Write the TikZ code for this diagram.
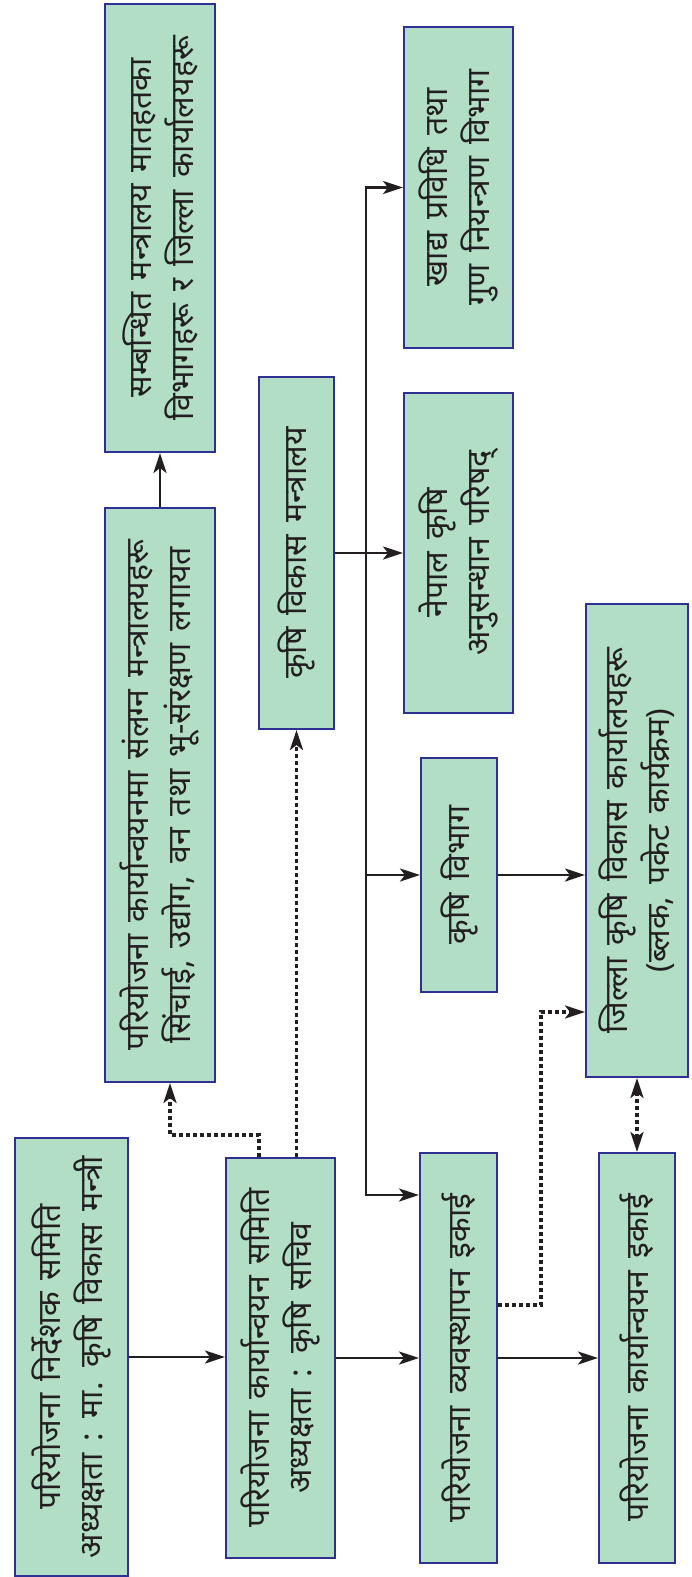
\documentclass[tikz,border=0pt]{standalone}
\usepackage{fontspec}
\newfontfamily\deva[Script=Devanagari]{Noto Sans}
\usetikzlibrary{arrows.meta,calc}
\definecolor{boxgreen}{RGB}{178,222,197}
\definecolor{boxblue}{RGB}{46,49,146}
\definecolor{ink}{RGB}{35,31,32}
\newcommand\lblfont{\deva\fontsize{32}{42}\selectfont\spaceskip 12pt plus 3pt minus 2pt\relax}
\tikzset{
  box/.style={draw=boxblue, line width=2pt, fill=boxgreen, inner sep=0pt},
  lbl/.style={rotate=90, align=center, inner sep=0pt, text=ink, font=\lblfont},
  tip/.tip={Stealth[length=20pt,width=13pt,inset=5pt]},
  arr/.style={draw=ink, line width=2.6pt, -tip},
  dotarr/.style={draw=ink, line width=3.2pt, dash pattern=on 4pt off 3pt, -tip},
  dotboth/.style={draw=ink, line width=3.2pt, dash pattern=on 4pt off 3pt, tip-tip},
}
\begin{document}
\begin{tikzpicture}[x=1pt,y=-1pt]
\useasboundingbox (0,0) rectangle (691,1577);
% boxes
\node[box, minimum width=113pt, minimum height=438pt] (A) at (71.5,1357) {};
\node[lbl] (At) at (A) {परियोजना निर्देशक समिति\\अध्यक्षता : मा. कृषि विकास मन्त्री};
\node[box, minimum width=109pt, minimum height=400pt] (B) at (280.5,1358) {};
\node[lbl] (Bt) at (B) {परियोजना कार्यान्वयन समिति\\अध्यक्षता : कृषि सचिव};
\node[box, minimum width=77pt, minimum height=410pt] (C) at (458.5,1358) {};
\node[lbl] (Ct) at (C) {परियोजना व्यवस्थापन इकाई};
\node[box, minimum width=76pt, minimum height=410pt] (D) at (637,1358) {};
\node[lbl] (Dt) at (D) {परियोजना कार्यान्वयन इकाई};
\node[box, minimum width=110pt, minimum height=574pt] (E) at (160,795) {};
\node[lbl] (Et) at (E) {परियोजना कार्यान्वयनमा संलग्न मन्त्रालयहरू\\सिंचाई, उद्योग, वन तथा भू-संरक्षण लगायत};
\node[box, minimum width=110pt, minimum height=448pt] (F) at (160,228) {};
\node[lbl] (Ft) at (F) {सम्बन्धित मन्त्रालय मातहतका\\विभागहरू र जिल्ला कार्यालयहरू};
\node[box, minimum width=75pt, minimum height=352pt] (G) at (296.5,553) {};
\node[lbl] (Gt) at (G) {कृषि विकास मन्त्रालय};
\node[box, minimum width=109pt, minimum height=321pt] (H) at (458.5,187.5) {};
\node[lbl] (Ht) at (H) {खाद्य प्रविधि तथा\\गुण नियन्त्रण विभाग};
\node[box, minimum width=109pt, minimum height=320pt] (I) at (458.5,553) {};
\node[lbl] (It) at (I) {नेपाल कृषि\\अनुसन्धान परिषद्};
\node[box, minimum width=76pt, minimum height=234pt] (J) at (459,875) {};
\node[lbl] (Jt) at (J) {कृषि विभाग};
\node[box, minimum width=102pt, minimum height=473pt] (K) at (637,840.5) {};
\node[lbl] (Kt) at (K) {जिल्ला कृषि विकास कार्यालयहरू\\(ब्लक, पकेट कार्यक्रम)};
% solid connectors
\draw[arr] (A.east) -- (A.east -| B.west);
\draw[arr] (B.east) -- (B.east -| C.west);
\draw[arr] (C.east) -- (C.east -| D.west);
\draw[arr] (E.north) -- (F.south);
\draw[arr] (G.east) -- (I.west);
\coordinate (T) at (366,553);
\coordinate (Tc) at (366,1195);
\draw[arr] (T) |- (H.west);
\draw[arr] (T) |- (J.west);
\draw[arr] (T) -- (Tc) -- (Tc -| C.west);
\draw[arr] (J.east) -- (J.east -| K.west);
% dotted connectors
\coordinate (Bq) at ($(B.north west)+(34,0)$);
\draw[dotarr] (Bq) -- ++(0,-22) -| ($(E.south)+(10,0)$);
\draw[dotarr] (B.north -| G.south) -- (G.south);
\coordinate (Cy) at (0,1305);
\coordinate (Kx) at (541,1012);
\draw[dotarr] (C.east |- Cy) -| (Kx) -- (Kx -| K.west);
\draw[dotboth] (K.south -| D.north) -- (D.north);
\end{tikzpicture}
\end{document}
